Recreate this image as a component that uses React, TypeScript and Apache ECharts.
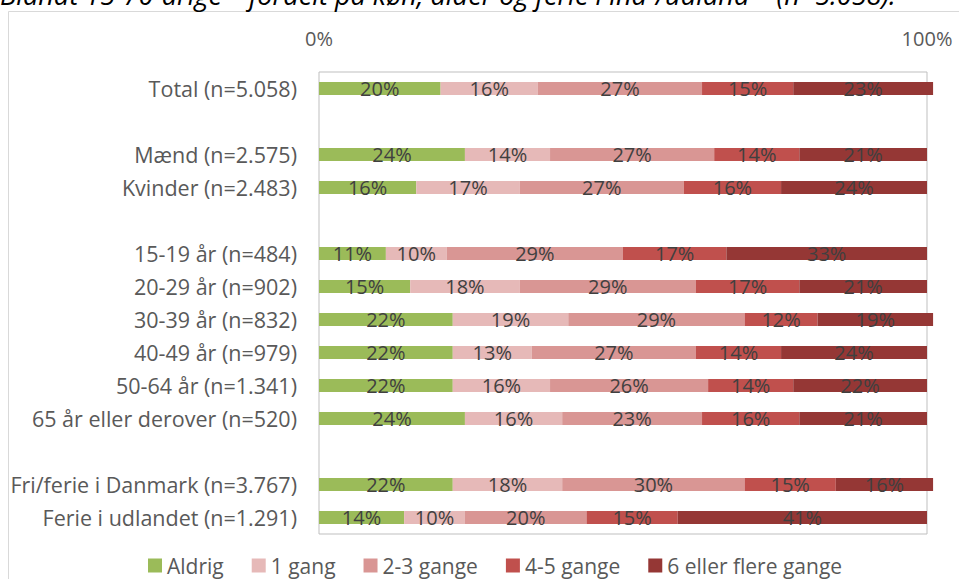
import React, { useEffect, useRef } from "react";
import * as echarts from "echarts";

const categories = [
  "Total (n=5.058)",
  " ",
  "Mænd (n=2.575)",
  "Kvinder (n=2.483)",
  "  ",
  "15-19 år (n=484)",
  "20-29 år (n=902)",
  "30-39 år (n=832)",
  "40-49 år (n=979)",
  "50-64 år (n=1.341)",
  "65 år eller derover (n=520)",
  "   ",
  "Fri/ferie i Danmark (n=3.767)",
  "Ferie i udlandet (n=1.291)",
];

const seriesNames = ["Aldrig", "1 gang", "2-3 gange", "4-5 gange", "6 eller flere gange"];
const colors = ["#9BBB59", "#E6B9B8", "#D99694", "#C0504D", "#953735"];

const aldrig = [20, null, 24, 16, null, 11, 15, 22, 22, 22, 24, null, 22, 14];
const gang1 = [16, null, 14, 17, null, 10, 18, 19, 13, 16, 16, null, 18, 10];
const gange23 = [27, null, 27, 27, null, 29, 29, 29, 27, 26, 23, null, 30, 20];
const gange45 = [15, null, 14, 16, null, 17, 17, 12, 14, 14, 16, null, 15, 15];
const gange6 = [23, null, 21, 24, null, 33, 21, 19, 24, 22, 21, null, 16, 41];

const allValues = [aldrig, gang1, gange23, gange45, gange6];

const titleText = "Blandt 15-70-årige – fordelt på køn, alder og ferie i ind-/udland – (n=5.058).";

const FONT = "'Open Sans', sans-serif";

export default function App() {
  const ref = useRef<HTMLDivElement>(null);
  useEffect(() => {
    if (!ref.current) return;
    const chart = echarts.init(ref.current, undefined, { renderer: "svg" });
    chart.setOption({
      animation: false,
      textStyle: { fontFamily: FONT },
      graphic: [
        {
          type: "rect",
          shape: { x: 8.5, y: 11.5, width: 1100, height: 700 },
          style: { fill: "none", stroke: "#D9D9D9", lineWidth: 1 },
          silent: true,
        },
        {
          type: "text",
          x: 0,
          y: -6,
          style: {
            text: titleText,
            font: "italic 27px " + FONT,
            fill: "#000000",
            verticalAlign: "middle",
            align: "left",
          },
        },
      ],
      legend: {
        left: 143,
        top: 550,
        itemWidth: 14,
        itemHeight: 14,
        itemGap: 28,
        icon: "rect",
        textStyle: { fontSize: 21, color: "#595959", fontFamily: FONT },
        data: seriesNames,
      },
      grid: {
        left: 319,
        top: 72,
        width: 608,
        height: 462,
        show: true,
        borderColor: "#BFBFBF",
        borderWidth: 1,
        containLabel: false,
      },
      xAxis: {
        type: "value",
        position: "top",
        min: 0,
        max: 100,
        interval: 100,
        axisLine: { show: false },
        axisTick: { show: false },
        splitLine: { show: false },
        axisLabel: {
          formatter: "{value}%",
          fontSize: 20,
          color: "#595959",
          margin: 24,
          fontFamily: FONT,
        },
      },
      yAxis: {
        type: "category",
        inverse: true,
        data: categories,
        axisLine: { show: false },
        axisTick: { show: false },
        axisLabel: {
          fontSize: 21.5,
          color: "#595959",
          margin: 22,
          fontFamily: FONT,
        },
      },
      series: seriesNames.map((name, i) => ({
        name,
        type: "bar",
        stack: "total",
        barWidth: 13,
        clip: false,
        itemStyle: { color: colors[i] },
        label: {
          show: true,
          position: "inside",
          formatter: "{c}%",
          fontSize: 20,
          color: "#404040",
          fontFamily: FONT,
        },
        data: allValues[i],
      })),
    });
    return () => chart.dispose();
  }, []);
  return (
    <div
      ref={ref}
      style={{ position: "absolute", left: 0, top: 0, width: 959, height: 579 }}
    />
  );
}
